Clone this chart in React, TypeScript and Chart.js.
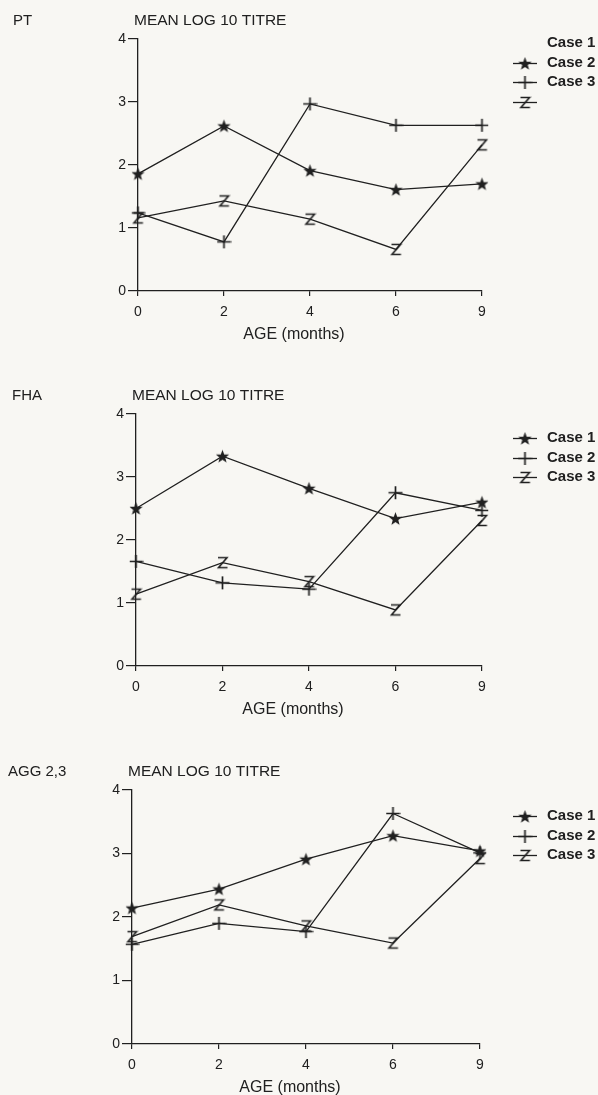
import React, { useEffect, useRef } from 'react';
import { Chart, registerables } from 'chart.js';

Chart.register(...registerables);

// ---------- data ----------
const AGES = ['0', '2', '4', '6', '9'];
const CASES = ['Case 1', 'Case 2', 'Case 3'];
const Y_MIN = 0;
const Y_MAX = 4;

const PT_CASE1 = [1.86, 2.62, 1.91, 1.61, 1.7];
const PT_CASE2 = [1.24, 0.78, 2.97, 2.63, 2.63];
const PT_CASE3 = [1.16, 1.43, 1.14, 0.66, 2.32];

const FHA_CASE1 = [2.5, 3.33, 2.82, 2.34, 2.6];
const FHA_CASE2 = [1.66, 1.32, 1.22, 2.75, 2.47];
const FHA_CASE3 = [1.14, 1.64, 1.34, 0.89, 2.31];

const AGG_CASE1 = [2.14, 2.44, 2.91, 3.28, 3.04];
const AGG_CASE2 = [1.57, 1.9, 1.77, 3.63, 3.01];
const AGG_CASE3 = [1.69, 2.19, 1.86, 1.59, 2.92];

const Y_HEADER = 'MEAN LOG 10 TITRE';
const X_TITLE = 'AGE (months)';

// ---------- layout / style ----------
const INK = '#202020';
const PAPER = '#f8f7f3';
const FONT = '"Liberation Sans", Arial, Helvetica, sans-serif';
const W = 598;

type PanelCfg = {
  name: string;
  series: number[][];
  top: number;
  height: number;
  areaLeft: number;
  areaRight: number;
  areaTop: number;
  areaBottom: number;
  nameX: number;
  legendTop: number;
  markerShift: number;
};

const PANELS: PanelCfg[] = [
  { name: 'PT', series: [PT_CASE1, PT_CASE2, PT_CASE3], top: 0, height: 355,
    areaLeft: 138, areaRight: 482, areaTop: 39, areaBottom: 291, nameX: 13, legendTop: 43, markerShift: 1 },
  { name: 'FHA', series: [FHA_CASE1, FHA_CASE2, FHA_CASE3], top: 355, height: 365,
    areaLeft: 136, areaRight: 482, areaTop: 59, areaBottom: 311, nameX: 12, legendTop: 83, markerShift: 0 },
  { name: 'AGG 2,3', series: [AGG_CASE1, AGG_CASE2, AGG_CASE3], top: 720, height: 375,
    areaLeft: 132, areaRight: 480, areaTop: 70, areaBottom: 324, nameX: 8, legendTop: 96, markerShift: 0 },
];

function makeCanvas(w: number, h: number, draw: (ctx: CanvasRenderingContext2D) => void) {
  const c = document.createElement('canvas');
  c.width = w;
  c.height = h;
  const ctx = c.getContext('2d')!;
  ctx.strokeStyle = INK;
  ctx.fillStyle = INK;
  draw(ctx);
  return c;
}

function makeMarkers() {
  const star = makeCanvas(15, 15, (ctx) => {
    ctx.beginPath();
    for (let i = 0; i < 10; i++) {
      const r = i % 2 === 0 ? 7 : 2.9;
      const a = -Math.PI / 2 + (i * Math.PI) / 5;
      const x = 7.5 + r * Math.cos(a);
      const y = 8 + r * Math.sin(a);
      if (i === 0) ctx.moveTo(x, y);
      else ctx.lineTo(x, y);
    }
    ctx.closePath();
    ctx.fill();
  });
  const plus = makeCanvas(15, 15, (ctx) => {
    ctx.lineWidth = 1.7;
    ctx.beginPath();
    ctx.moveTo(0.5, 7.5);
    ctx.lineTo(14.5, 7.5);
    ctx.moveTo(7.5, 1);
    ctx.lineTo(7.5, 14);
    ctx.stroke();
  });
  const zed = makeCanvas(13, 15, (ctx) => {
    ctx.lineWidth = 1.6;
    ctx.lineJoin = 'miter';
    ctx.beginPath();
    ctx.moveTo(2, 2.5);
    ctx.lineTo(11, 2.5);
    ctx.lineTo(2.5, 12.5);
    ctx.lineTo(11.5, 12.5);
    ctx.stroke();
  });
  return [star, plus, zed];
}

const decorPlugin = {
  id: 'panelDecor',
  afterDraw(chart: any, _args: any, opts: any) {
    const { ctx, chartArea } = chart;
    const { left, right, top, bottom } = chartArea;
    ctx.save();
    ctx.fillStyle = INK;
    ctx.strokeStyle = INK;
    ctx.textBaseline = 'middle';
    ctx.textAlign = 'left';
    // panel name and y header
    ctx.font = `15px ${FONT}`;
    ctx.fillText(opts.name, opts.nameX, top - 18);
    ctx.font = `15.5px ${FONT}`;
    ctx.fillText(Y_HEADER, left - 4, top - 18);
    // x title
    ctx.font = `16px ${FONT}`;
    ctx.textAlign = 'center';
    ctx.fillText(X_TITLE, (left + right) / 2 - 16, bottom + 44);
    // legend
    const rowH = 19.5;
    ctx.textAlign = 'left';
    ctx.font = `bold 15px ${FONT}`;
    CASES.forEach((name, i) => {
      ctx.fillText(name, 547, opts.legendTop + i * rowH);
    });
    chart.data.datasets.forEach((ds: any, i: number) => {
      const my = Math.round(opts.legendTop + (i + opts.markerShift) * rowH) + 0.5;
      ctx.lineWidth = 1.3;
      ctx.beginPath();
      ctx.moveTo(513, my);
      ctx.lineTo(537, my);
      ctx.stroke();
      const img = ds.pointStyle;
      ctx.drawImage(img, 525 - img.width / 2, my - img.height / 2);
    });
    ctx.restore();
  },
};

function Panel({ cfg }: { cfg: PanelCfg }) {
  const ref = useRef<HTMLCanvasElement>(null);
  useEffect(() => {
    const markers = makeMarkers();
    const xAxisHeight = cfg.height - cfg.areaBottom;
    const chart = new Chart(ref.current!, {
      type: 'line',
      data: {
        labels: AGES,
        datasets: cfg.series.map((vals, i) => ({
          label: CASES[i],
          data: vals,
          borderColor: INK,
          borderWidth: 1.3,
          backgroundColor: INK,
          pointStyle: markers[i] as any,
          pointRadius: 5,
          tension: 0,
          fill: false,
        })),
      },
      options: {
        responsive: false,
        animation: false,
        events: [],
        layout: {
          padding: { left: 0, right: W - cfg.areaRight, top: cfg.areaTop, bottom: 0 },
        },
        plugins: {
          legend: { display: false },
          tooltip: { enabled: false },
          title: { display: false },
          panelDecor: {
            name: cfg.name,
            nameX: cfg.nameX,
            legendTop: cfg.legendTop,
            markerShift: cfg.markerShift,
          },
        } as any,
        scales: {
          x: {
            type: 'category',
            offset: false,
            grid: {
              display: true,
              drawOnChartArea: false,
              drawTicks: true,
              tickLength: 5,
              color: INK,
              lineWidth: 1.2,
            },
            border: { display: true, color: INK, width: 1.3 },
            ticks: {
              color: INK,
              font: { family: FONT, size: 14 },
              padding: 8,
              maxRotation: 0,
              autoSkip: false,
            },
            afterFit: (s: any) => {
              s.height = xAxisHeight;
            },
          },
          y: {
            min: Y_MIN,
            max: Y_MAX,
            grid: {
              display: true,
              drawOnChartArea: false,
              drawTicks: true,
              tickLength: 10,
              color: INK,
              lineWidth: 1.2,
            },
            border: { display: true, color: INK, width: 1.3 },
            ticks: {
              stepSize: 1,
              color: INK,
              font: { family: FONT, size: 14 },
              padding: 2,
            },
            afterFit: (s: any) => {
              s.width = cfg.areaLeft;
            },
          },
        },
      },
      plugins: [decorPlugin],
    });
    return () => chart.destroy();
  }, [cfg]);
  return (
    <canvas
      ref={ref}
      width={W}
      height={cfg.height}
      style={{ position: 'absolute', left: 0, top: cfg.top, width: W, height: cfg.height, display: 'block' }}
    />
  );
}

export default function App() {
  return (
    <div
      style={{
        position: 'absolute',
        left: 0,
        top: 0,
        width: W,
        height: 1095,
        background: PAPER,
        overflow: 'hidden',
      }}
    >
      {PANELS.map((p) => (
        <Panel key={p.name} cfg={p} />
      ))}
    </div>
  );
}
